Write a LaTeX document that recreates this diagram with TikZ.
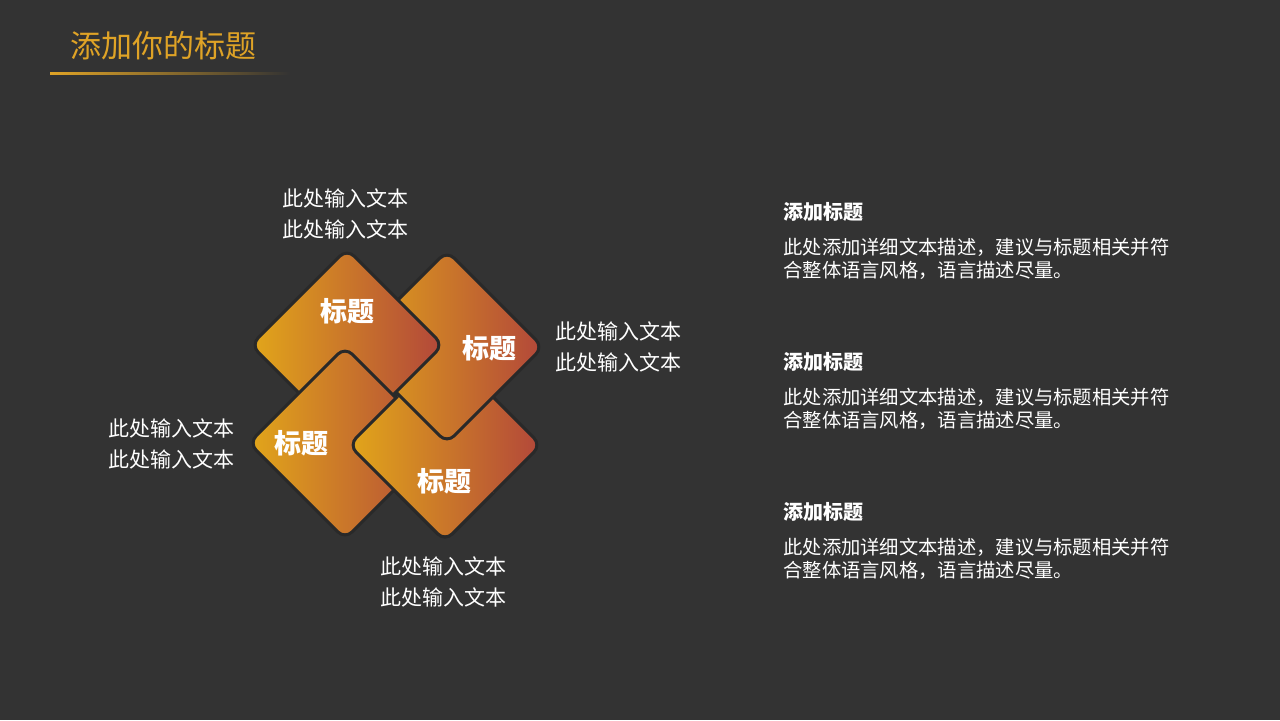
\documentclass[tikz,border=0pt]{standalone}
\usepackage{fontspec}
\setmainfont{Noto Sans CJK SC}
\definecolor{bgdark}{HTML}{333333}
\definecolor{gold}{HTML}{DFA326}
\definecolor{tileL}{HTML}{E2A61A}
\definecolor{tileR}{HTML}{B2473A}
\definecolor{gap}{HTML}{292929}
\tikzset{
    tile/.style={left color=tileL, right color=tileR, draw=gap, line width=1.5pt, rounded corners=5pt},
    tilelabel/.style={text=white, inner sep=0, font=\fontsize{13.5}{16}\selectfont\bfseries},
    sidetext/.style={text=white, inner sep=0, align=left, font=\fontsize{10.5}{15.5}\selectfont},
    headtext/.style={text=white, inner sep=0, anchor=west, font=\fontsize{10}{12}\selectfont\bfseries},
    bodytext/.style={text=white, inner sep=0, anchor=west, align=left, font=\fontsize{9.65}{11.3}\selectfont}
}
\newcommand{\drawtile}[1]{\path[tile, shift={(#1)}] (-48,-48) -- (0,-96) -- (96,0) -- (0,96) -- (-96,0) -- cycle;}
\begin{document}
\begin{tikzpicture}[x=0.5pt, y=-0.5pt]
    \fill[bgdark] (0,0) rectangle (1280,720);

    % title
    \node[text=gold, inner sep=0, font=\fontsize{15.5}{18}\selectfont] (title) at (163,46) {添加你的标题};
    \shade[left color=gold, right color=bgdark] (50,72.5) rectangle (290,74);

    % four woven tiles
    \coordinate (tl) at (347,345);
    \coordinate (tr) at (447,347);
    \coordinate (bl) at (345,443);
    \coordinate (br) at (445,445);
    \drawtile{br}
    \drawtile{tr}
    \drawtile{tl}
    \drawtile{bl}
    \begin{scope}
        % lower right tile goes over the lower left one
        \clip (200,199) -- (700,699) -- (200,699) -- cycle;
        \drawtile{br}
    \end{scope}

    \node[tilelabel] (ltl) at (347,311) {标题};
    \node[tilelabel] (ltr) at (489,348) {标题};
    \node[tilelabel] (lbl) at (301,443) {标题};
    \node[tilelabel] (lbr) at (444,481) {标题};

    \node[sidetext] (stop) at (345.5,213.5) {此处输入文本\\此处输入文本};
    \node[sidetext, anchor=west] (sright) at (555,346.5) {此处输入文本\\此处输入文本};
    \node[sidetext, anchor=east] (sleft) at (235,444) {此处输入文本\\此处输入文本};
    \node[sidetext] (sbottom) at (443.5,581.5) {此处输入文本\\此处输入文本};

    % right column
    \foreach \y [count=\i] in {212, 362, 512} {
        \node[headtext] (head\i) at (783,\y) {添加标题};
        \node[bodytext] (body\i) at (783,\y+47) {此处添加详细文本描述，建议与标题相关并符\\合整体语言风格，语言描述尽量。};
    }
\end{tikzpicture}
\end{document}
